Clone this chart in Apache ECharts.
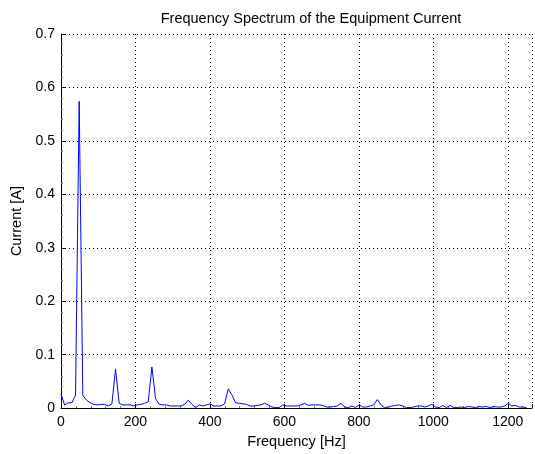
<!DOCTYPE html>
<html>
<head>
<meta charset="utf-8">
<script src="https://cdn.jsdelivr.net/npm/echarts@6/dist/echarts.min.js"></script>
<style>
html,body{margin:0;padding:0;background:#fff;}
#chart{width:535px;height:454px;}
</style>
</head>
<body>
<div id="chart"></div>
<script>
// Frequency resolution of the spectrum (bins 0..128)
const binWidth = 2500 / 256;
// Current amplitude per frequency bin [A]
const currentValues = [
  0.026, 0.006, 0.010, 0.010, 0.024, 0.574, 0.024, 0.015, 0.010, 0.007,
  0.006, 0.007, 0.007, 0.004, 0.008, 0.073, 0.009, 0.006, 0.006, 0.006,
  0.004, 0.006, 0.007, 0.009, 0.012, 0.077, 0.018, 0.007, 0.006, 0.006,
  0.004, 0.004, 0.004, 0.004, 0.007, 0.015, 0.007, 0.001, 0.006, 0.004,
  0.006, 0.008, 0.004, 0.004, 0.004, 0.008, 0.036, 0.025, 0.010, 0.009,
  0.008, 0.007, 0.004, 0.004, 0.005, 0.006, 0.009, 0.006, 0.002, 0.001,
  0.001, 0.006, 0.004, 0.004, 0.004, 0.004, 0.006, 0.009, 0.005, 0.006,
  0.006, 0.006, 0.005, 0.002, 0.002, 0.003, 0.004, 0.009, 0.002, 0.001,
  0.004, 0.001, 0.006, 0.002, 0.002, 0.004, 0.006, 0.016, 0.006, 0.001,
  0.002, 0.004, 0.005, 0.006, 0.004, 0.001, 0.001, 0.002, 0.004, 0.004,
  0.002, 0.004, 0.007, 0.002, 0.001, 0.005, 0.001, 0.005, 0.001, 0.001,
  0.002, 0.001, 0.003, 0.002, 0.001, 0.003, 0.002, 0.003, 0.001, 0.003,
  0.002, 0.002, 0.004, 0.009, 0.004, 0.005, 0.002, 0.002, 0.001
];
const titleText = 'Frequency Spectrum of the Equipment Current';
const xLabel = 'Frequency [Hz]';
const yLabel = 'Current [A]';

const seriesData = currentValues.map((v, k) => [k * binWidth, v]);

const font = 'Liberation Sans, Arial, Helvetica, sans-serif';
const chart = echarts.init(document.getElementById('chart'), null, {renderer: 'canvas'});
chart.setOption({
  animation: false,
  backgroundColor: '#ffffff',
  title: {
    text: titleText,
    left: 306, top: 6, textAlign: 'center',
    textStyle: {fontFamily: font, fontSize: 14.5, fontWeight: 'normal', color: '#000'}
  },
  grid: {left: 61, right: 3, top: 34, bottom: 40, containLabel: false},
  xAxis: {
    type: 'value', min: 0, max: 1265, interval: 200,
    name: xLabel, nameLocation: 'middle', nameGap: 22,
    nameTextStyle: {fontFamily: font, fontSize: 14.5, color: '#000'},
    axisLine: {show: true, onZero: false, lineStyle: {color: '#000', width: 1}},
    axisTick: {show: true, inside: true, length: 4, lineStyle: {color: '#000'}},
    minorTick: {show: true, splitNumber: 5, length: 2, lineStyle: {color: '#777'}},
    axisLabel: {fontFamily: font, fontSize: 14, color: '#000', margin: 7, showMaxLabel: false,
      formatter: v => (v > 1200 ? '' : String(v))},
    splitLine: {show: true, lineStyle: {color: '#000', width: 1, type: [1, 3]}}
  },
  yAxis: {
    type: 'value', min: 0, max: 0.7, interval: 0.1,
    name: yLabel, nameLocation: 'middle', nameGap: 30,
    nameTextStyle: {fontFamily: font, fontSize: 14.5, color: '#000'},
    axisLine: {show: true, lineStyle: {color: '#000', width: 1}},
    axisTick: {show: true, inside: true, length: 4, lineStyle: {color: '#000'}},
    minorTick: {show: true, splitNumber: 5, length: 2, lineStyle: {color: '#777'}},
    axisLabel: {fontFamily: font, fontSize: 14, color: '#000', margin: 6,
      formatter: v => (v === 0 ? '0' : v.toFixed(1))},
    splitLine: {show: true, lineStyle: {color: '#000', width: 1, type: [1, 3]}}
  },
  series: [{
    type: 'line',
    data: seriesData,
    showSymbol: false,
    symbol: 'none',
    lineStyle: {color: '#0000ff', width: 1},
    itemStyle: {color: '#0000ff'}
  }]
});
</script>
</body>
</html>
